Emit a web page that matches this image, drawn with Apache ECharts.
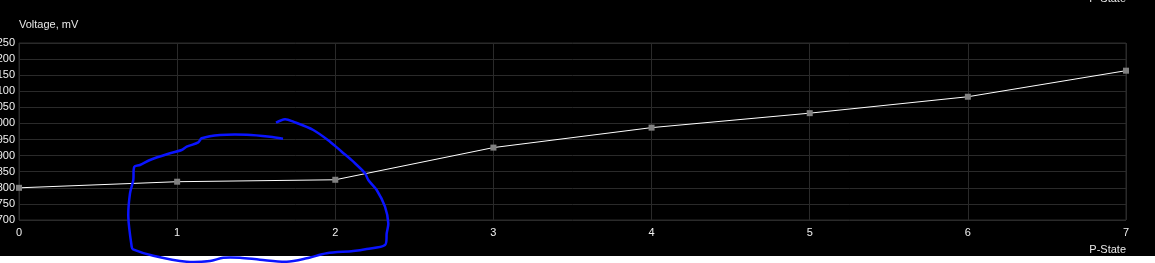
<!DOCTYPE html>
<html>
<head>
<meta charset="utf-8">
<script src="https://cdn.jsdelivr.net/npm/echarts@6/dist/echarts.min.js"></script>
<style>
html,body{margin:0;padding:0;background:#fff;}
#chart{width:1155px;height:263px;}
</style>
</head>
<body>
<div id="chart"></div>
<script>
var pStates = [0, 1, 2, 3, 4, 5, 6, 7];
var voltages = [800, 819, 825, 925, 987, 1032, 1083, 1164];
var yTicks = [700, 750, 800, 850, 900, 950, 1000, 1050, 1100, 1150, 1200, 1250];

var annotation = [
  [283,138.7],[270,136.7],[246.7,134.7],[220,135],[201.7,138.3],[198.3,142.3],[186.7,146.7],[181.7,150],[170,153.3],[150,160],[140,165],[134.3,166.7],
  [133.3,180],[130,193.3],[128.3,216.7],[131.7,246.7],[133,249.3],
  [153.3,255.7],[186.7,261.7],[210,261],[223.3,257.7],[240,257.7],[260,259.7],[286.7,261.7],[306.7,258.3],[326.7,253.3],[353.3,251],[366.7,249],[385,245],
  [386.7,233.3],[388.3,223.3],[385,206.7],[376.7,190],[368.3,180],[365,173.3],[353.3,161.7],[341.7,151.7],[330,141.7],[313.3,130],[293.3,121.7],[285,119.3],[276,122.7]
];

var font = 'Liberation Sans, Arial, sans-serif';
var chart = echarts.init(document.getElementById('chart'));
chart.setOption({
  backgroundColor: '#000',
  animation: false,
  grid: {left: 19, right: 29, top: 43, bottom: 43, show: true, borderColor: '#2a2a2a', borderWidth: 1, containLabel: false, outerBoundsMode: 'none'},
  xAxis: {
    type: 'value', min: 0, max: 7, interval: 1,
    name: 'P-State', nameLocation: 'end', nameGap: 0,
    nameTextStyle: {color: '#e8e8e8', fontFamily: font, fontSize: 11, align: 'right', verticalAlign: 'top', padding: [24, 0, 0, 0]},
    axisLine: {show: false}, axisTick: {show: false},
    axisLabel: {color: '#f0f0f0', fontFamily: font, fontSize: 11, margin: 7},
    splitLine: {show: true, lineStyle: {color: '#2a2a2a', width: 1}}
  },
  yAxis: {
    type: 'value', min: yTicks[0], max: yTicks[yTicks.length - 1], interval: 50,
    name: 'Voltage, mV', nameLocation: 'end', nameGap: 13,
    nameTextStyle: {color: '#e8e8e8', fontFamily: font, fontSize: 11, align: 'left'},
    axisLine: {show: false}, axisTick: {show: false},
    axisLabel: {color: '#f0f0f0', fontFamily: font, fontSize: 11, margin: 4, formatter: function (v) { return String(v); }},
    splitLine: {show: true, lineStyle: {color: '#2a2a2a', width: 1}}
  },
  series: [{
    type: 'line',
    data: pStates.map(function (p, i) { return [p, voltages[i]]; }),
    lineStyle: {color: '#ffffff', width: 1},
    symbol: 'rect', symbolSize: 6, showAllSymbol: true,
    itemStyle: {color: '#808080', borderWidth: 0},
    clip: false
  }],
  graphic: [
    {type: 'rect', shape: {x: 0, y: 256, width: 1155, height: 7}, style: {fill: '#fff'}, z: 1},
    {type: 'text', right: 29, top: -7, style: {text: 'P-State', fill: '#e8e8e8', font: '11px ' + font, align: 'right'}, z: 5},
    {type: 'polyline', shape: {points: annotation, smooth: 0.3}, style: {stroke: '#0a14ff', lineWidth: 2.5, fill: null}, z: 10}
  ]
});
</script>
</body>
</html>
